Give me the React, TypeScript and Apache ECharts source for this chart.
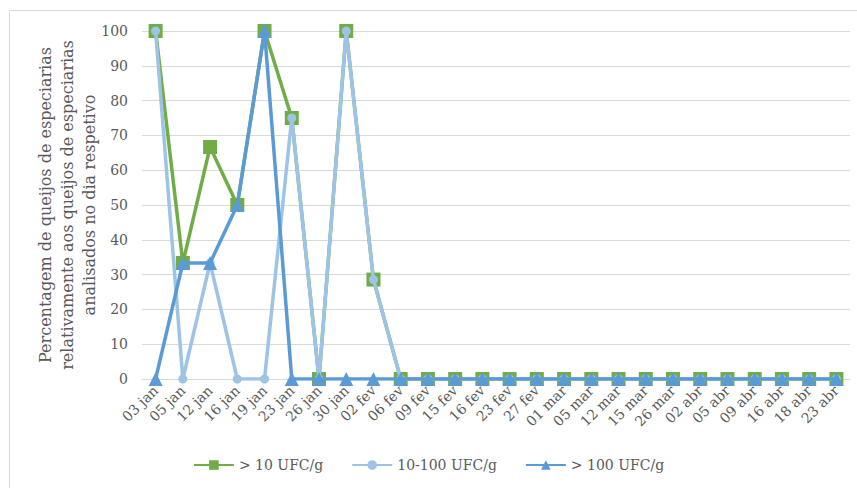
import React, { useEffect, useRef } from "react";
import * as echarts from "echarts";

const categories = [
  "03 jan", "05 jan", "12 jan", "16 jan", "19 jan", "23 jan", "26 jan", "30 jan",
  "02 fev", "06 fev", "09 fev", "15 fev", "16 fev", "23 fev", "27 fev",
  "01 mar", "05 mar", "12 mar", "15 mar", "26 mar",
  "02 abr", "05 abr", "09 abr", "16 abr", "18 abr", "23 abr",
];

const above10 = [100, 33.33, 66.67, 50, 100, 75, 0, 100, 28.57, 0, 0, 0, 0, 0, 0, 0, 0, 0, 0, 0, 0, 0, 0, 0, 0, 0];
const between10and100 = [100, 0, 33.33, 0, 0, 75, 0, 100, 28.57, 0, 0, 0, 0, 0, 0, 0, 0, 0, 0, 0, 0, 0, 0, 0, 0, 0];
const above100 = [0, 33.33, 33.33, 50, 100, 0, 0, 0, 0, 0, 0, 0, 0, 0, 0, 0, 0, 0, 0, 0, 0, 0, 0, 0, 0, 0];

const seriesNames = ["> 10 UFC/g", "10-100 UFC/g", "> 100 UFC/g"];
const yTitle = "Percentagem de queijos de especiarias\nrelativamente aos queijos de especiarias\nanalisados no dia respetivo";

const FONT = "'DejaVu Serif', serif";

export default function App() {
  const ref = useRef<HTMLDivElement>(null);
  useEffect(() => {
    document.body.style.margin = "0";
    if (!ref.current) return;
    const chart = echarts.init(ref.current, undefined, { renderer: "svg" });
    chart.setOption({
      animation: false,
      backgroundColor: "#ffffff",
      grid: { left: 142, right: 7, top: 31, bottom: 109 },
      legend: {
        bottom: 11,
        left: "center",
        itemWidth: 40,
        itemHeight: 12,
        itemGap: 28,
        textStyle: { fontFamily: FONT, fontSize: 14, color: "#595959" },
        data: seriesNames,
      },
      graphic: [
        {
          type: "rect",
          shape: { x: 9.5, y: 10.5, width: 900, height: 600 },
          style: { fill: "none", stroke: "#d9d9d9", lineWidth: 1 },
          silent: true,
        },
        {
          type: "text",
          x: 67,
          y: 205,
          rotation: Math.PI / 2,
          style: {
            text: yTitle,
            align: "center",
            verticalAlign: "middle",
            font: "16px 'DejaVu Serif', serif",
            lineHeight: 22,
            fill: "#595959",
          },
        },
      ],
      xAxis: {
        type: "category",
        data: categories,
        boundaryGap: true,
        axisLine: { lineStyle: { color: "#d9d9d9", width: 1 } },
        axisTick: { show: false },
        axisLabel: {
          rotate: 45,
          interval: 0,
          fontFamily: FONT,
          fontSize: 14,
          color: "#595959",
          margin: 9,
        },
      },
      yAxis: {
        type: "value",
        min: 0,
        max: 100,
        interval: 10,
        axisLine: { show: false },
        axisTick: { show: false },
        splitLine: { lineStyle: { color: "#d9d9d9", width: 1 } },
        axisLabel: { fontFamily: FONT, fontSize: 14, color: "#595959", margin: 14 },
      },
      series: [
        {
          name: seriesNames[0],
          type: "line",
          data: above10,
          symbol: "rect",
          symbolSize: 14,
          lineStyle: { color: "#70AD47", width: 3.5 },
          itemStyle: { color: "#70AD47" },
          z: 2,
        },
        {
          name: seriesNames[1],
          type: "line",
          data: between10and100,
          symbol: "circle",
          symbolSize: 9,
          lineStyle: { color: "#9DC3E6", width: 3.5 },
          itemStyle: { color: "#9DC3E6" },
          z: 3,
        },
        {
          name: seriesNames[2],
          type: "line",
          data: above100,
          symbol: "triangle",
          symbolSize: 14,
          lineStyle: { color: "#5B9BD5", width: 3.5 },
          itemStyle: { color: "#5B9BD5" },
          z: 4,
        },
      ],
    });
    return () => chart.dispose();
  }, []);
  return <div ref={ref} style={{ width: 857, height: 488 }} />;
}
